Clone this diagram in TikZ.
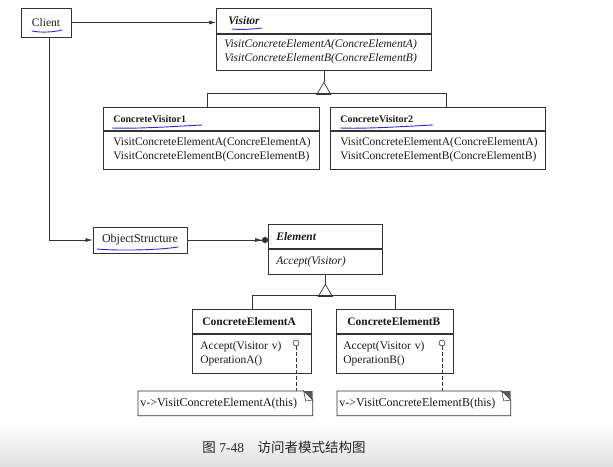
\documentclass[tikz,border=0pt]{standalone}
\usepackage{fontspec}
\setmainfont{Liberation Serif}
\newfontfamily\cjk{Noto Sans CJK SC}
\usetikzlibrary{arrows.meta}
\definecolor{linea}{HTML}{333333}
\definecolor{tinta}{HTML}{2B2BD0}

\begin{document}
\begin{tikzpicture}[x=1pt,y=-1pt,line width=0.7pt,
   clase/.style={draw=linea,anchor=north west,inner ysep=0pt,align=left,text=black!90,
                 font=\fontsize{11.5}{14}\selectfont},
   simple/.style={draw=linea,inner sep=0pt,text=black!90,font=\fontsize{11.5}{14}\selectfont},
   nota/.style={anchor=north west,inner ysep=0pt,inner xsep=2pt,align=left,text=black!90,
                font=\fontsize{12}{14}\selectfont},
   lolli/.style={circle,draw=linea,fill=white,inner sep=0pt,minimum size=6pt,line width=0.6pt},
   flecha/.style={draw=linea,-{Latex[length=7pt,width=4pt]}},
   subraya/.style={tinta,line width=0.9pt,line cap=round}]

  \useasboundingbox (0,0) rectangle (613,466);
  \shade[top color=white,bottom color=black!12] (0,422) rectangle (613,466);

  % --- Client y Visitor ---
  \node[simple,minimum width=50,minimum height=29] (client) at (46,22.5) {Client};
  \node[clase,minimum width=215,minimum height=25,inner xsep=12pt,text width=191pt]
     (vis) at (216,8) {\textbf{\textit{Visitor}}};
  \node[clase,minimum width=215,minimum height=36,inner xsep=8pt,text width=199pt]
     (visb) at (vis.south west) {\textit{VisitConcreteElementA(ConcreElementA)}\\
                                 \textit{VisitConcreteElementB(ConcreElementB)}};

  % --- visitantes concretos ---
  \node[clase,minimum width=216,minimum height=23,inner xsep=10pt,text width=196pt,
        font=\fontsize{10}{12}\selectfont\bfseries] (cv1) at (103,107) {ConcreteVisitor1};
  \node[clase,minimum width=216,minimum height=38,inner xsep=10pt,text width=196pt]
     (cv1b) at (cv1.south west) {VisitConcreteElementA(ConcreElementA)\\
                                 VisitConcreteElementB(ConcreElementB)};
  \node[clase,minimum width=215,minimum height=23,inner xsep=10pt,text width=195pt,
        font=\fontsize{10}{12}\selectfont\bfseries] (cv2) at (330,107) {ConcreteVisitor2};
  \node[clase,minimum width=215,minimum height=38,inner xsep=10pt,text width=195pt]
     (cv2b) at (cv2.south west) {VisitConcreteElementA(ConcreElementA)\\
                                 VisitConcreteElementB(ConcreElementB)};

  % --- estructura y elementos ---
  \node[simple,minimum width=94,minimum height=26,font=\fontsize{12}{14}\selectfont]
     (obj) at (140,240) {ObjectStructure};
  \node[clase,minimum width=114,minimum height=24,inner xsep=8pt,text width=98pt]
     (el) at (268,224) {\textbf{\textit{Element}}};
  \node[clase,minimum width=114,minimum height=25,inner xsep=8pt,text width=98pt]
     (elb) at (el.south west) {\textit{Accept(Visitor)}};

  \node[clase,minimum width=119,minimum height=24,inner xsep=10pt,text width=99pt,
        font=\fontsize{11.5}{14}\selectfont\bfseries] (cea) at (192,309) {ConcreteElementA};
  \node[clase,minimum width=119,minimum height=39,inner xsep=8pt,text width=103pt]
     (ceab) at (cea.south west) {Accept(Visitor v)\\OperationA()};
  \node[clase,minimum width=117,minimum height=24,inner xsep=11pt,text width=95pt,
        font=\fontsize{11.5}{14}\selectfont\bfseries] (ceb) at (336,309) {ConcreteElementB};
  \node[clase,minimum width=117,minimum height=39,inner xsep=7pt,text width=103pt]
     (cebb) at (ceb.south west) {Accept(Visitor v)\\OperationB()};

  % --- notas ---
  \node[nota,minimum width=174,minimum height=24,text width=170pt] (notaA) at (138,391)
     {v->VisitConcreteElementA(this)};
  \node[nota,minimum width=173,minimum height=24,text width=169pt] (notaB) at (337,391)
     {v->VisitConcreteElementB(this)};
  \foreach \n in {notaA,notaB} {
    \draw[linea] (\n.north west) -- ([xshift=-9pt]\n.north east) -- ([yshift=-9pt]\n.north east)
       -- (\n.south east) -- (\n.south west) -- cycle;
    \fill[black!65] ([xshift=-9pt]\n.north east) -- (\n.north east) -- ([yshift=-9pt]\n.north east) -- cycle;
    \draw[linea,fill=white,line width=0.5pt] ([xshift=-9pt]\n.north east)
       -- ([xshift=-7pt,yshift=-10pt]\n.north east) -- ([yshift=-9pt]\n.north east) -- cycle;
  }
  \node[lolli] (pa) at (296,343) {};
  \node[lolli] (pb) at (442,343) {};
  \draw[linea,dashed,dash pattern=on 4pt off 2pt] (pa.south) -- (pa.south |- notaA.north);
  \draw[linea,dashed,dash pattern=on 4pt off 2pt] (pb.south) -- (pb.south |- notaB.north);

  % --- conectores ---
  \draw[flecha] (client.east) -- (client.east -| vis.west);
  \draw[flecha] ([xshift=3pt]client.south) |- (obj.west);
  \draw[draw=linea,-{Latex[length=7pt,width=4pt]Circle[length=6pt]}] (obj.east) -- (obj.east -| el.west);

  % herencia Visitor
  \draw[linea] (visb.south) -- ++(0,12) coordinate (tv);
  \draw[linea] (tv) -- ++(-7,12) -- ++(14,0) -- cycle;
  \draw[linea] ([xshift=-4pt]cv1.north) -- ++(0,-14) -| ([xshift=8.5pt]cv2.north);
  % herencia Element
  \draw[linea] (elb.south) -- ++(0,10) coordinate (te);
  \draw[linea] (te) -- ++(-7,12) -- ++(14,0) -- cycle;
  \draw[linea] (cea.north) -- ++(0,-14) -| (ceb.north);

  % --- subrayados a mano ---
  \draw[subraya] (32,31) .. controls (42,33) and (54,32) .. (62,30);
  \draw[subraya] (232,29) .. controls (242,30) and (254,29) .. (262,28);
  \draw[subraya] (112,128) .. controls (140,129) and (180,126) .. (202,125);
  \draw[subraya] (340,128) .. controls (370,129) and (410,126) .. (433,125);
  \draw[subraya] (97,249) .. controls (120,251) and (160,250) .. (178,247);

  % --- pie ---
  \node[text=black!85,font=\fontsize{13.5}{16}\selectfont] (pie) at (284,447)
     {{\cjk 图} 7-48\quad{\cjk 访问者模式结构图}};
\end{tikzpicture}
\end{document}
